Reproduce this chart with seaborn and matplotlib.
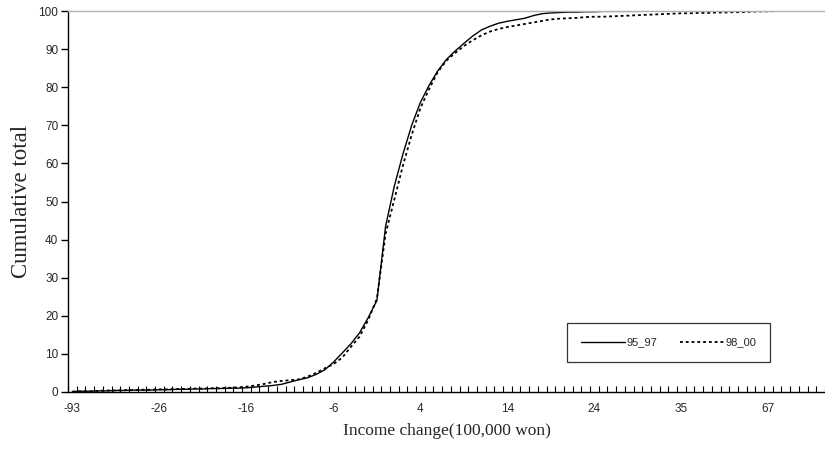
import numpy as np
import pandas as pd
import matplotlib
matplotlib.use("Agg")
import matplotlib.pyplot as plt
import seaborn as sns

# Category labels (income change, 100,000 won) - one per category on the axis
categories = [-93, -60, -50, -45, -40, -35, -32, -30, -28, -27,
              -26, -25, -24, -23, -22, -21, -20, -19, -18, -17,
              -16, -15, -14, -13, -12, -11, -10, -9, -8, -7,
              -6, -5, -4, -3, -2, -1, 0, 1, 2, 3,
              4, 5, 6, 7, 8, 9, 10, 11, 12, 13,
              14, 15, 16, 17, 18, 19, 20, 21, 22, 23,
              24, 25, 26, 27, 28, 29, 30, 31, 32, 34,
              35, 36, 38, 40, 42, 45, 48, 50, 55, 60,
              67, 70, 75, 80, 90, 100, 120]

# Cumulative totals (%) per category
s95_97 = [0.1, 0.2, 0.2, 0.3, 0.3, 0.4, 0.4, 0.5, 0.5, 0.5,
          0.6, 0.6, 0.7, 0.7, 0.8, 0.8, 0.9, 0.9, 1.0, 1.0,
          1.1, 1.3, 1.5, 1.7, 2.0, 2.6, 3.2, 3.7, 4.6, 5.8,
          7.8, 10.2, 12.6, 15.5, 19.5, 24.0, 43.5, 54.0, 62.5, 70.0,
          76.0, 80.5, 84.3, 87.3, 89.5, 91.5, 93.4, 95.0, 96.0, 96.8,
          97.3, 97.7, 98.1, 98.8, 99.3, 99.5, 99.6, 99.7, 99.7, 99.8,
          99.8, 99.9, 99.9, 99.9, 99.9, 99.9, 100, 100, 100, 100,
          100]

s98_00 = [0.1, 0.2, 0.2, 0.3, 0.4, 0.4, 0.5, 0.5, 0.6, 0.6,
          0.7, 0.7, 0.8, 0.8, 0.9, 0.9, 1.0, 1.0, 1.1, 1.2,
          1.4, 1.7, 2.1, 2.6, 2.9, 3.1, 3.3, 4.0, 5.0, 6.2,
          7.3, 9.0, 11.8, 14.5, 18.9, 24.5, 41.5, 50.5, 59.5, 67.5,
          74.5, 79.5, 84.0, 87.0, 89.0, 90.8, 92.3, 93.6, 94.6, 95.3,
          95.8, 96.2, 96.6, 97.0, 97.4, 97.8, 98.0, 98.1, 98.2, 98.4,
          98.5, 98.5, 98.6, 98.7, 98.8, 98.9, 99.0, 99.1, 99.2, 99.3,
          99.4, 99.4, 99.5, 99.5, 99.6, 99.6, 99.7, 99.7, 99.8, 99.9,
          99.9, 100, 100, 100, 100, 100, 100]

tick_labels = ['-93', '-26', '-16', '-6', '4', '14', '24', '35', '67']
yticks = [0, 10, 20, 30, 40, 50, 60, 70, 80, 90, 100]

n = len(categories)
df1 = pd.DataFrame({"pos": np.arange(len(s95_97)), "val": s95_97})
df2 = pd.DataFrame({"pos": np.arange(len(s98_00)), "val": s98_00})

sns.set_style("white", {"xtick.bottom": True, "ytick.left": True})
plt.rcParams['font.family'] = ['Liberation Sans', 'DejaVu Sans']

fig = plt.figure(figsize=(8.25, 4.54), dpi=100)
ax = fig.add_axes([68/825, 62/454, 1 - 68/825, (392 - 11)/454])

sns.lineplot(data=df1, x="pos", y="val", ax=ax, color="black", linewidth=1.0,
             label="95_97", legend=False)
sns.lineplot(data=df2, x="pos", y="val", ax=ax, color="black", linewidth=1.3,
             linestyle=(0, (1.6, 1.6)), label="98_00", legend=False)
if ax.get_legend() is not None:
    ax.get_legend().remove()

ax.set_xlim(-0.5, n - 0.5)
ax.set_ylim(0, 100)

# y axis
ax.set_yticks(yticks)
ax.set_yticklabels([str(v) for v in yticks], fontsize=8.5)
for t in ax.yaxis.get_major_ticks():
    t.tick1line.set_visible(True)
    t.tick1line.set_markersize(5)
    t.tick1line.set_markeredgewidth(1.0)
    t.tick1line.set_color('black')
ax.tick_params(axis='y', which='major', left=True, direction='out', length=5,
               width=1.0, color='black', pad=2)

# x axis: ticks between categories, labels every 10 categories
label_pos = [categories.index(int(t)) for t in tick_labels]
ax.set_xticks(label_pos)
ax.set_xticklabels(tick_labels, fontsize=8.5)
ax.tick_params(axis='x', which='major', bottom=True, length=0, pad=8)
ax.set_xticks(np.arange(-0.5, n, 1.0), minor=True)
ax.tick_params(axis='x', which='minor', bottom=True, direction='in', length=4,
               width=0.8, color='black')

for side in ['left', 'bottom']:
    ax.spines[side].set_color('black')
    ax.spines[side].set_linewidth(1.0)
ax.spines['right'].set_visible(False)
ax.spines['top'].set_color('#b0b0b0')
ax.spines['top'].set_linewidth(1.0)

ax.set_xlabel("Income change(100,000 won)", fontsize=12.5,
              family=['Liberation Serif', 'DejaVu Serif'], labelpad=6)
ax.set_ylabel("Cumulative total", fontsize=16.5,
              family=['Liberation Serif', 'DejaVu Serif'], labelpad=4.5)

handles = ax.get_lines()[:2]
labels = ["95_97", "98_00"]
leg = fig.legend(handles, labels, loc='center', ncol=2,
                 bbox_to_anchor=(668.5/825, (454 - 342.5)/454),
                 fontsize=8, frameon=True, fancybox=False, edgecolor='black',
                 handlelength=4.0, handletextpad=0.1, columnspacing=2.0,
                 borderpad=1.3)
leg.get_frame().set_linewidth(0.9)

fig.savefig("out.png", dpi=100)
